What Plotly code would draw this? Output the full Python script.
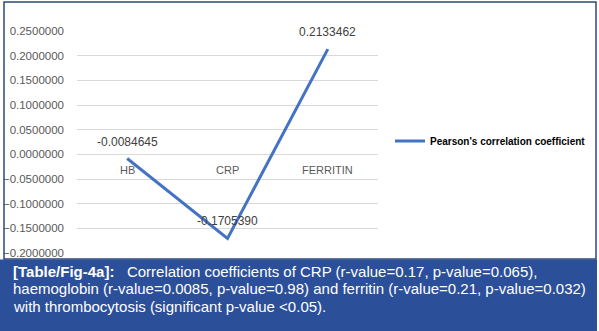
import plotly.graph_objects as go

categories = ["HB", "CRP", "FERRITIN"]
values = [-0.0084645, -0.1705390, 0.2133462]
value_labels = ["-0.0084645", "-0.1705390", "0.2133462"]
tick_vals = [0.25, 0.2, 0.15, 0.1, 0.05, 0.0, -0.05, -0.1, -0.15, -0.2]
series_name = "Pearson's correlation coefficient"
caption_lines = [
    "<b>[Table/Fig-4a]:</b>   Correlation coefficients of CRP (r-value=0.17, p-value=0.065),",
    "haemoglobin (r-value=0.0085, p-value=0.98) and ferritin (r-value=0.21, p-value=0.032)",
    "with thrombocytosis (significant p-value &lt;0.05).",
]

W, H = 599, 331
L, R, T, B = 77, 221, 31, 78
pw, ph = W - L - R, H - T - B

def px(x):
    return (x - L) / pw

def py(y):
    return (H - B - y) / ph

fig = go.Figure()
fig.add_trace(go.Scatter(
    x=list(range(len(categories))), y=values, mode="lines", name="<b>" + series_name + "</b>",
    line=dict(color="#4472c4", width=3),
))

for i, (v, lab) in enumerate(zip(values, value_labels)):
    fig.add_annotation(x=i, y=v, yshift=17, text=lab, showarrow=False, xref="x", yref="y",
                       font=dict(family="Liberation Sans, Arial", size=12, color="#404040"))

for i, c in enumerate(categories):
    fig.add_annotation(x=i, y=0, yshift=-16, text=c, showarrow=False,
                       xref="x", yref="y",
                       font=dict(family="Liberation Sans, Arial", size=11, color="#595959"))

shapes = [
    dict(type="rect", xref="paper", yref="paper", x0=px(0), x1=px(597), y0=py(331), y1=py(259.5),
         line=dict(width=0), fillcolor="#2c4f9a", layer="below"),
    dict(type="rect", xref="paper", yref="paper", x0=px(4), x1=px(596), y0=py(259), y1=py(2),
         line=dict(color="#2b4a7a", width=1.5), fillcolor="rgba(0,0,0,0)", layer="below"),
]

for k, line in enumerate(caption_lines):
    fig.add_annotation(xref="paper", yref="paper", x=px(11), y=py(271 + 17.5 * k),
                       xanchor="left", yanchor="middle",
                       align="left", showarrow=False, text=line,
                       font=dict(family="Liberation Sans, Arial", size=15, color="white"))

fig.update_layout(
    width=W, height=H, margin=dict(l=L, r=R, t=T, b=B, autoexpand=False),
    paper_bgcolor="white", plot_bgcolor="white",
    shapes=shapes,
    showlegend=True,
    legend=dict(x=px(390), y=py(141), xanchor="left", yanchor="middle",
                font=dict(family="Liberation Sans, Arial", size=10, color="black"),
                bgcolor="rgba(0,0,0,0)", itemwidth=30),
    xaxis=dict(range=[-0.5, 2.5], showgrid=False, showticklabels=False, zeroline=False,
               showline=False, fixedrange=True),
    yaxis=dict(range=[-0.2, 0.25], tickvals=tick_vals, tickformat=".7f",
               showgrid=True, gridcolor="#d9d9d9", gridwidth=1, zeroline=False,
               tickfont=dict(family="Liberation Sans, Arial", size=11.5, color="#595959"),
               ticklabelstandoff=12, showline=False),
)

fig.write_html("out.html")
